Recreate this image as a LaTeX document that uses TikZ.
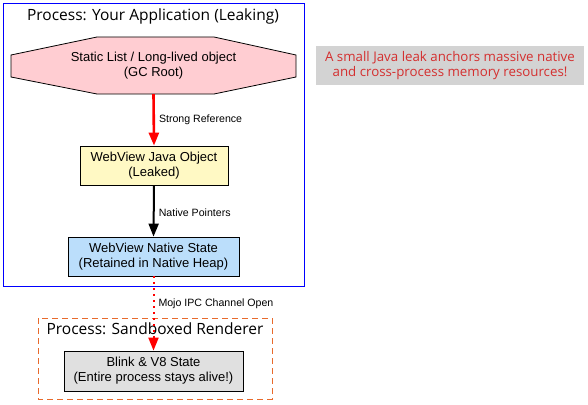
\documentclass[tikz,border=0pt]{standalone}
\usepackage{fontspec}
\setmainfont{Liberation Sans}
\newfontfamily\titlefont{Open Sans}
\usetikzlibrary{arrows.meta}
\definecolor{pinkfill}{HTML}{FFCDD2}
\definecolor{yellowfill}{HTML}{FFF9C4}
\definecolor{bluefill}{HTML}{BBDEFB}
\definecolor{grayfill}{HTML}{E0E0E0}
\definecolor{notefill}{HTML}{D3D3D3}
\definecolor{notetext}{HTML}{D32F2F}
\definecolor{clusterorange}{HTML}{E86A2C}
\tikzset{
  boxnode/.style={draw=black, line width=0.8pt, align=center, font=\fontsize{13}{15}\selectfont, inner sep=0pt},
  edgelabel/.style={font=\fontsize{10.6}{12}\selectfont, anchor=west, inner sep=0pt, yshift=-2.5pt},
  clustertitle/.style={font=\titlefont\fontsize{15.5}{17}\selectfont, inner sep=0pt},
  tip/.style={-{Triangle[length=13pt,width=10pt]}},
}
\begin{document}
\begin{tikzpicture}[x=1pt,y=-1pt]
\useasboundingbox (0,0) rectangle (588,404);
% cluster 1
\draw[blue, line width=0.9pt] (3,3) rectangle (304,286);
\node[clustertitle] (t1) at (153,16) {Process: Your Application (Leaking)};
% cluster 2
\draw[clusterorange, line width=0.9pt, dash pattern=on 6pt off 4pt] (38,318) rectangle (272,399);
\node[clustertitle] (t2) at (155,329) {Process: Sandboxed Renderer};
% octagon
\draw[fill=pinkfill, line width=0.8pt] (97,37) -- (214,37) -- (296,55) -- (296,77) -- (214,94) -- (97,94) -- (11,77) -- (11,55) -- cycle;
\node[inner sep=0pt, minimum width=285pt, minimum height=57pt, align=center, font=\fontsize{13}{15}\selectfont] (root) at (153.5,65.5) {Static List / Long-lived object\\(GC Root)};
% boxes
\node[boxnode, fill=yellowfill, minimum width=148pt, minimum height=39pt] (java) at (154,165.5) {WebView Java Object\\(Leaked)};
\node[boxnode, fill=bluefill, minimum width=171pt, minimum height=39pt] (native) at (153.5,256.5) {WebView Native State\\(Retained in Native Heap)};
\node[boxnode, fill=grayfill, minimum width=179pt, minimum height=40pt] (blink) at (153.5,371) {Blink \& V8 State\\(Entire process stays alive!)};
% note
\node[fill=notefill, text=notetext, minimum width=268pt, minimum height=39pt, inner sep=0pt, align=center, font=\titlefont\fontsize{13.3}{15}\selectfont] (note) at (450,65.5) {A small Java leak anchors massive native\\and cross-process memory resources!};
% edges
\draw[red, line width=2.6pt, tip] (root.south) -- (java.north) node[pos=0.45, edgelabel, text=black, xshift=4pt] {Strong Reference};
\draw[black, line width=2pt, tip] (java.south) -- (native.north) node[pos=0.48, edgelabel, xshift=4pt] {Native Pointers};
\draw[red, line width=2pt, dash pattern=on 2pt off 4pt, tip] (native.south) -- (blink.north) node[pos=0.33, edgelabel, text=black, xshift=4pt] {Mojo IPC Channel Open};
\end{tikzpicture}
\end{document}
